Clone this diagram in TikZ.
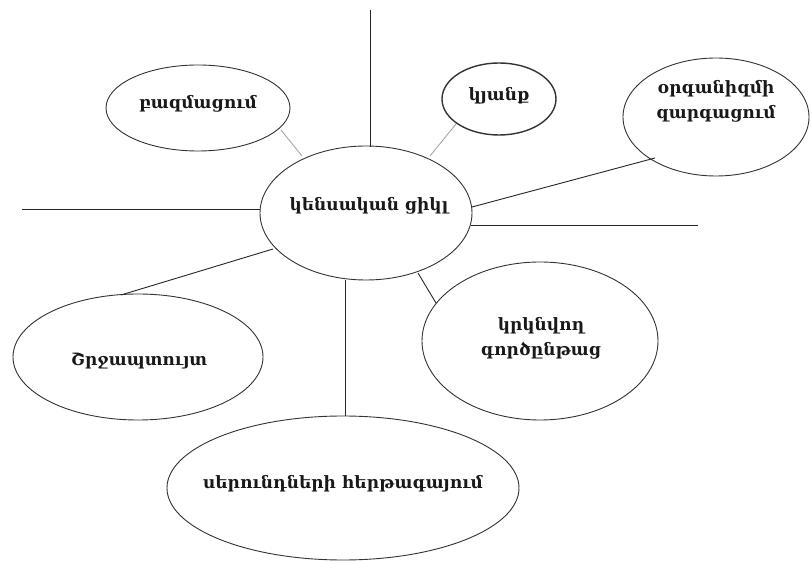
\documentclass[tikz,border=0pt]{standalone}
\usepackage{fontspec}
\newfontfamily\arm[Script=Armenian]{DejaVu Serif Bold}
\usetikzlibrary{shapes.geometric}
\begin{document}
\begin{tikzpicture}[x=1pt,y=-1pt,
  oval/.style={draw=black!80,line width=0.9pt,ellipse,inner sep=0pt},
  lbl/.style={font=\arm\fontsize{17}{25}\selectfont,align=center,text=black!90},
  dark/.style={draw=black!85,line width=0.9pt},
  light/.style={draw=black!35,line width=0.9pt}]
\path[fill=white] (0,0) rectangle (812,561);
\useasboundingbox (0,0) rectangle (812,561);
% ellipses
\node[oval,minimum width=212pt,minimum height=134pt] (c) at (366,213) {};
\node[oval,minimum width=184pt,minimum height=86pt] (b) at (198,108) {};
\node[oval,minimum width=114pt,minimum height=72pt,line width=1.4pt] (k) at (499,99) {};
\node[oval,minimum width=186pt,minimum height=118pt] (o) at (716,117) {};
\node[oval,minimum width=250pt,minimum height=126pt] (s) at (138,357) {};
\node[oval,minimum width=236pt,minimum height=158pt] (r) at (540,341) {};
\node[oval,minimum width=352pt,minimum height=144pt] (h) at (343,488) {};
% labels
\node[lbl] (tc) at (369,206) {կենսական ցիկլ};
\node[lbl] (tb) at (198,104) {բազմացում};
\node[lbl] (tk) at (499,96) {կյանք};
\node[lbl] (to) at (716,101) {օրգանիզմի\\զարգացում};
\node[lbl] (ts) at (139,361) {Շրջապտույտ};
\node[lbl] (tr) at (541,338) {կրկնվող\\գործընթաց};
\node[lbl] (th) at (343,484) {սերունդների հերթագայում};
% free ends
\coordinate (top) at (370,10);
\coordinate (left) at (22,209);
\coordinate (right) at (698,225);
\coordinate (cT) at (370,147);
\coordinate (cL) at (260,209);
\coordinate (cR) at (471,225);
\coordinate (cRo) at (472,207);
\coordinate (oL) at (655,158);
\coordinate (cBL) at (273,249);
\coordinate (sT) at (121,295);
\coordinate (cB) at (345,280);
\coordinate (hT) at (345,416);
\coordinate (cBR) at (418,273);
\coordinate (rT) at (436,303);
\coordinate (bR) at (281,130);
\coordinate (cUL) at (302,156);
\coordinate (kL) at (456,124);
\coordinate (cUR) at (430,156);
% connectors
\draw[dark] (cT) -- (top);
\draw[dark] (cL) -- (left);
\draw[dark] (cR) -- (right);
\draw[dark] (cRo) -- (oL);
\draw[dark] (cBL) -- (sT);
\draw[dark] (cB) -- (hT);
\draw[dark] (cBR) -- (rT);
\draw[light] (cUL) -- (bR);
\draw[light] (cUR) -- (kL);
\end{tikzpicture}
\end{document}
